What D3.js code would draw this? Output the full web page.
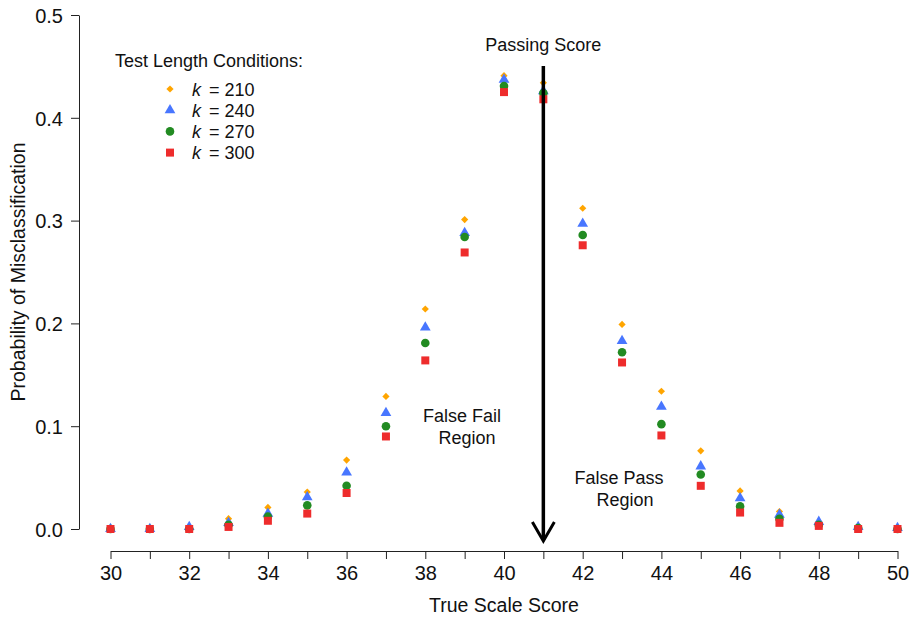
<!DOCTYPE html>
<html>
<head>
<meta charset="utf-8">
<script src="https://cdn.jsdelivr.net/npm/d3@7"></script>
<style>
  body { margin: 0; background: #fff; }
  svg { font-family: "Liberation Sans", Arial, sans-serif; }
</style>
</head>
<body>
<div id="chart"></div>
<script>
// true scale scores on the x axis
let scores = [30, 31, 32, 33, 34, 35, 36, 37, 38, 39, 40, 41, 42, 43, 44, 45, 46, 47, 48, 49, 50];

// probability of misclassification per test length
let k210 = [0.001, 0.000, 0.002, 0.010, 0.021, 0.036, 0.067, 0.129, 0.214, 0.301, 0.441, 0.434, 0.312, 0.199, 0.134, 0.076, 0.037, 0.017, 0.007, 0.003, 0.001];
let k240 = [0.000, 0.000, 0.002, 0.006, 0.015, 0.031, 0.055, 0.113, 0.196, 0.288, 0.437, 0.426, 0.297, 0.183, 0.119, 0.061, 0.030, 0.014, 0.007, 0.002, 0.001];
let k270 = [0.000, 0.000, 0.000, 0.004, 0.012, 0.023, 0.042, 0.100, 0.181, 0.284, 0.431, 0.424, 0.286, 0.172, 0.102, 0.053, 0.022, 0.010, 0.004, 0.001, 0.000];
let k300 = [0.000, 0.000, 0.000, 0.002, 0.008, 0.015, 0.035, 0.090, 0.164, 0.269, 0.425, 0.418, 0.276, 0.162, 0.091, 0.042, 0.016, 0.006, 0.003, 0.000, 0.000];

let seriesNames = ['210', '240', '270', '300'];
let yTicks = [0, 0.1, 0.2, 0.3, 0.4, 0.5];
let passingScore = 41;

let width = 909;
let height = 618;

let series = [
    { name: seriesNames[0], values: k210, color: '#ffa500', shape: 'diamond' },
    { name: seriesNames[1], values: k240, color: '#4876ff', shape: 'triangle' },
    { name: seriesNames[2], values: k270, color: '#228b22', shape: 'circle' },
    { name: seriesNames[3], values: k300, color: '#ee2c2c', shape: 'square' }
];

let svg = d3.select('#chart')
    .append('svg')
    .attr('width', width)
    .attr('height', height);

let x = d3.scaleLinear().domain([30, 50]).range([110.5, 897.5]);
let y = d3.scaleLinear().domain([0, 0.5]).range([529, 15]);

function symbolPath(shape) {
    if (shape == 'diamond') return d3.symbol().type(d3.symbolSquare).size(26)();
    if (shape == 'triangle') return d3.symbol().type(d3.symbolTriangle).size(50)();
    if (shape == 'circle') return d3.symbol().type(d3.symbolCircle).size(58)();
    return d3.symbol().type(d3.symbolSquare).size(64)();
}
function symbolRotate(shape) {
    return shape == 'diamond' ? ' rotate(45)' : '';
}

// axes
let xAxis = d3.axisBottom(x)
    .tickValues(scores)
    .tickSize(8)
    .tickSizeOuter(0)
    .tickPadding(7)
    .tickFormat(function (d) { return d % 2 == 0 ? d : ''; });
let gx = svg.append('g')
    .attr('transform', 'translate(0,551)')
    .call(xAxis);

let yAxis = d3.axisLeft(y)
    .tickValues(yTicks)
    .tickSize(8)
    .tickSizeOuter(0)
    .tickPadding(8)
    .tickFormat(d3.format('.1f'));
let gy = svg.append('g')
    .attr('transform', 'translate(79,0)')
    .call(yAxis);

[gx, gy].forEach(function (g) {
    g.selectAll('path, line').attr('stroke', '#222').attr('stroke-width', 1);
    g.selectAll('text')
        .attr('fill', '#111')
        .style('font-size', '20px')
        .style('font-family', '"Liberation Sans", Arial, sans-serif');
});
gy.selectAll('text').attr('dy', '0.36em');

// axis titles
svg.append('text')
    .attr('x', 504)
    .attr('y', 612)
    .attr('text-anchor', 'middle')
    .style('font-size', '19.5px')
    .attr('fill', '#111')
    .text('True Scale Score');
svg.append('text')
    .attr('transform', 'translate(25,272) rotate(-90)')
    .attr('text-anchor', 'middle')
    .style('font-size', '19.5px')
    .attr('fill', '#111')
    .text('Probability of Misclassification');

// points
series.forEach(function (s) {
    svg.append('g')
        .selectAll('path')
        .data(scores)
        .enter()
        .append('path')
        .attr('d', symbolPath(s.shape))
        .attr('fill', s.color)
        .attr('transform', function (d, i) {
            return 'translate(' + x(d) + ',' + y(s.values[i]) + ')' + symbolRotate(s.shape);
        });
});

// passing score arrow
let arrowX = x(passingScore);
svg.append('line')
    .attr('x1', arrowX).attr('x2', arrowX)
    .attr('y1', 66).attr('y2', 540)
    .attr('stroke', '#000')
    .attr('stroke-width', 3.5);
svg.append('path')
    .attr('d', 'M' + (arrowX - 11) + ',522 L' + arrowX + ',541 L' + (arrowX + 11) + ',522')
    .attr('fill', 'none')
    .attr('stroke', '#000')
    .attr('stroke-width', 3);
svg.append('text')
    .attr('x', arrowX)
    .attr('y', 51)
    .attr('text-anchor', 'middle')
    .style('font-size', '18px')
    .attr('fill', '#111')
    .text('Passing Score');

// region labels
let notes = [
    { text: 'False Fail', x: 462, y: 422 },
    { text: 'Region', x: 467, y: 444 },
    { text: 'False Pass', x: 619, y: 484 },
    { text: 'Region', x: 625, y: 506 }
];
svg.selectAll('text.note')
    .data(notes)
    .enter()
    .append('text')
    .attr('class', 'note')
    .attr('x', function (d) { return d.x; })
    .attr('y', function (d) { return d.y; })
    .attr('text-anchor', 'middle')
    .style('font-size', '18px')
    .attr('fill', '#111')
    .text(function (d) { return d.text; });

// legend
svg.append('text')
    .attr('x', 115)
    .attr('y', 67)
    .style('font-size', '18px')
    .attr('fill', '#111')
    .text('Test Length Conditions:');

let legendRows = svg.selectAll('g.legend-row')
    .data(series)
    .enter()
    .append('g')
    .attr('class', 'legend-row')
    .attr('transform', function (d, i) { return 'translate(0,' + (89 + i * 21.2) + ')'; });
legendRows.append('path')
    .attr('d', function (d) { return symbolPath(d.shape); })
    .attr('fill', function (d) { return d.color; })
    .attr('transform', function (d) { return 'translate(170,0)' + symbolRotate(d.shape); });
let legendText = legendRows.append('text')
    .attr('y', 6.5)
    .style('font-size', '18px')
    .attr('fill', '#111');
legendText.append('tspan')
    .attr('x', 192)
    .style('font-style', 'italic')
    .text('k');
legendText.append('tspan')
    .attr('x', 209)
    .text(function (d) { return '= ' + d.name; });
</script>
</body>
</html>
